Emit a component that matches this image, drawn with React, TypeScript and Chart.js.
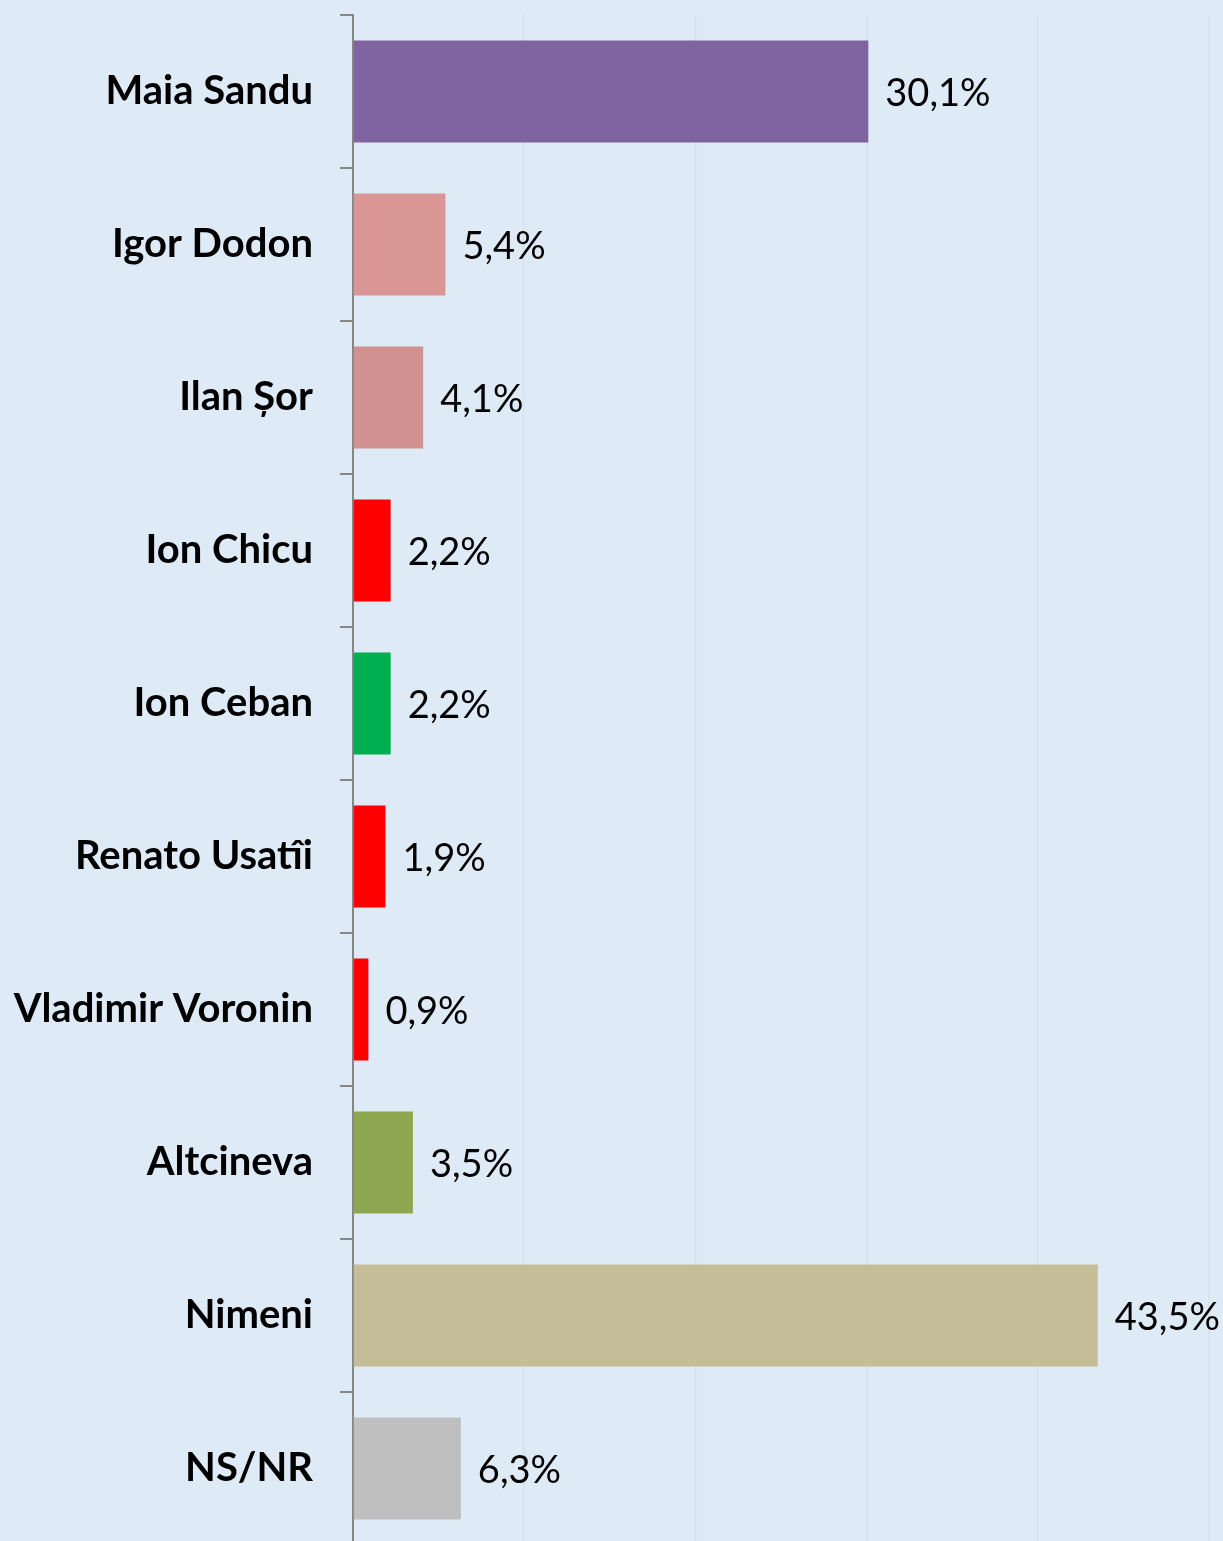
import React, { useEffect, useRef } from "react";
import { Chart, registerables } from "chart.js";

Chart.register(...registerables);

const categories = [
  "Maia Sandu",
  "Igor Dodon",
  "Ilan Șor",
  "Ion Chicu",
  "Ion Ceban",
  "Renato Usatîi",
  "Vladimir Voronin",
  "Altcineva",
  "Nimeni",
  "NS/NR",
];
const values = [30.1, 5.4, 4.1, 2.2, 2.2, 1.9, 0.9, 3.5, 43.5, 6.3];
const barColors = [
  "#8064A2",
  "#DA9694",
  "#D19190",
  "#FF0000",
  "#00B050",
  "#FF0000",
  "#FF0000",
  "#8DA750",
  "#C4BD97",
  "#BFBFBF",
];
const xTicks = [0, 10, 20, 30, 40, 50];

const BG = "#DEEAF6";

const bgPlugin = {
  id: "bg",
  beforeDraw(chart: any) {
    const { ctx, width, height } = chart;
    ctx.save();
    ctx.fillStyle = BG;
    ctx.fillRect(0, 0, width, height);
    ctx.restore();
  },
};

const valueLabels = {
  id: "valueLabels",
  afterDatasetsDraw(chart: any) {
    const { ctx } = chart;
    const meta = chart.getDatasetMeta(0);
    ctx.save();
    ctx.font = "38px Lato";
    ctx.fillStyle = "#000000";
    ctx.textAlign = "left";
    ctx.textBaseline = "middle";
    meta.data.forEach((bar: any, i: number) => {
      const txt = values[i].toFixed(1).replace(".", ",") + "%";
      ctx.fillText(txt, bar.x + 17, bar.y + 2);
    });
    ctx.restore();
  },
};

export default function App() {
  const ref = useRef<HTMLCanvasElement | null>(null);
  useEffect(() => {
    if (!ref.current) return;
    const chart = new Chart(ref.current, {
      type: "bar",
      data: {
        labels: categories,
        datasets: [
          {
            data: values,
            backgroundColor: barColors,
            borderWidth: 0,
            barPercentage: 0.667,
            categoryPercentage: 1,
          },
        ],
      },
      options: {
        indexAxis: "y",
        animation: false,
        responsive: false,
        maintainAspectRatio: false,
        layout: { padding: { top: 15, right: 14, bottom: 15, left: 0 } },
        plugins: {
          legend: { display: false },
          tooltip: { enabled: false },
        },
        scales: {
          x: {
            min: 0,
            max: 50,
            afterBuildTicks: (scale: any) => {
              scale.ticks = xTicks.map((v) => ({ value: v }));
            },
            ticks: { display: false },
            grid: {
              color: "rgba(0,0,0,0.035)",
              lineWidth: 1.5,
              drawTicks: false,
            },
            border: { display: false },
            afterFit: (scale: any) => {
              scale.height = 0;
              scale.paddingLeft = 0;
              scale.paddingRight = 0;
            },
          },
          y: {
            afterFit: (scale: any) => {
              scale.width = 353;
              scale.paddingTop = 0;
              scale.paddingBottom = 0;
            },
            ticks: {
              color: "#000000",
              font: { family: "Lato", size: 40, weight: "bold" },
              padding: 27,
            },
            grid: {
              drawOnChartArea: false,
              drawTicks: true,
              tickLength: 13,
              color: "#868686",
              lineWidth: 2,
            },
            border: { display: true, color: "#868686", width: 2 },
          },
        },
      },
      plugins: [bgPlugin, valueLabels],
    });
    return () => chart.destroy();
  }, []);
  return (
    <div
      style={{
        position: "fixed",
        left: 0,
        top: 0,
        width: 1223,
        height: 1541,
        overflow: "hidden",
        background: BG,
      }}
    >
      <canvas ref={ref} width={1223} height={1560} style={{ display: "block" }} />
    </div>
  );
}
